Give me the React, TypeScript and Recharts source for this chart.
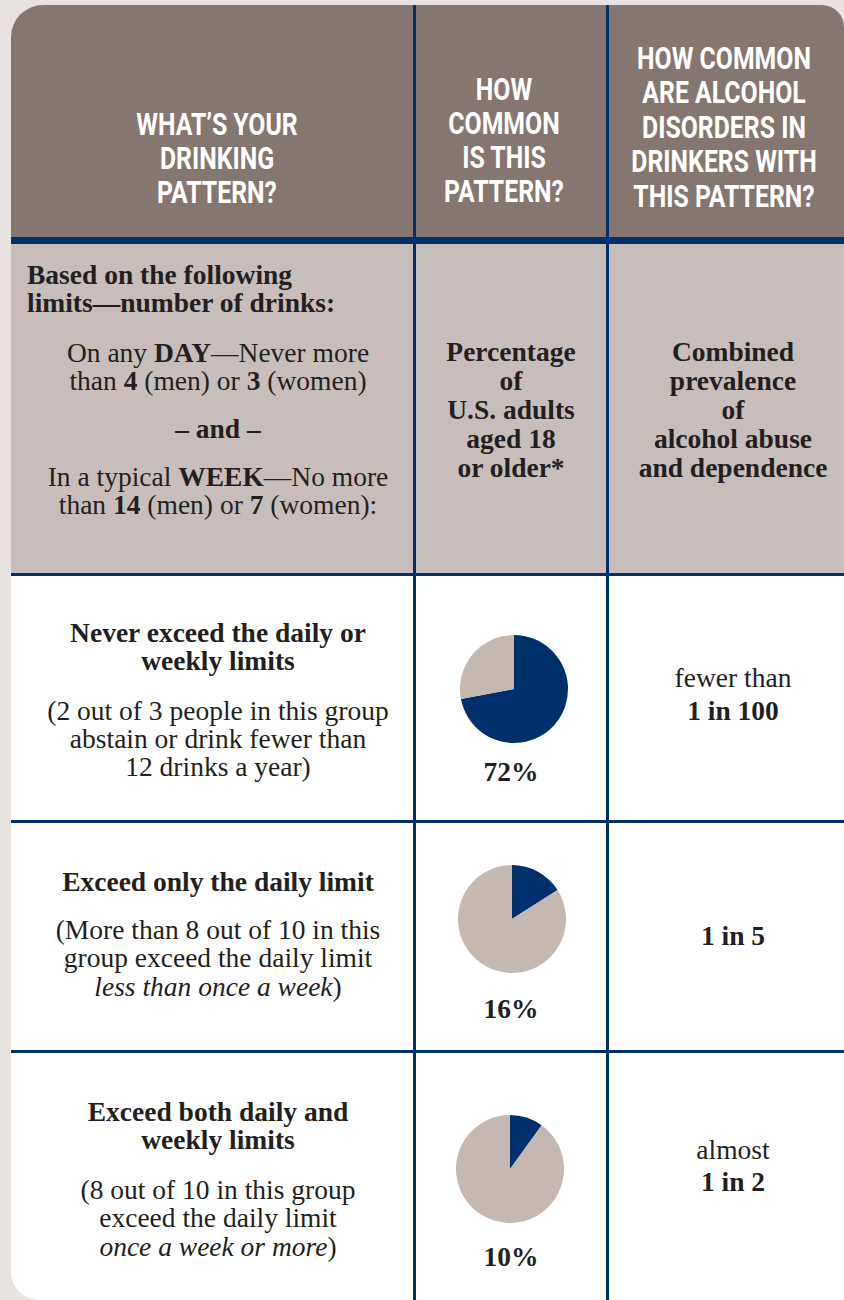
import React from 'react';
import { PieChart, Pie, Cell } from 'recharts';

// share of U.S. adults in each drinking pattern (%)
const patternShares = [72, 16, 10];
const shareLabels = ['72%', '16%', '10%'];
// prevalence of alcohol disorders per pattern
const prevalenceTop = ['fewer than', '', 'almost'];
const prevalenceBold = ['1 in 100', '1 in 5', '1 in 2'];

const headerCol1 = ['WHAT\u2019S YOUR', 'DRINKING', 'PATTERN?'];
const headerCol2 = ['HOW', 'COMMON', 'IS THIS', 'PATTERN?'];
const headerCol3 = ['HOW COMMON', 'ARE ALCOHOL', 'DISORDERS IN', 'DRINKERS WITH', 'THIS PATTERN?'];

const NAVY = '#00306c';
const TAUPE_PIE = '#c4b8b1';
const HEADER_BG = '#857770';
const ROW_BG = '#c7bebb';
const PAGE_BG = '#e8e3e0';
const INK = '#231f20';

const serif = '"Liberation Serif", "DejaVu Serif", serif';
const sans = 'Roboto, "DejaVu Sans", sans-serif';

const FS = 27.5; // body text size

type Line = React.ReactNode;

function TextBlock({ lines, left, width, top, lh, size = FS, bold = false, align = 'center', font = serif, color = INK, squeeze = 1 }: {
  lines: Line[]; left: number; width: number; top: number; lh: number; size?: number; bold?: boolean;
  align?: 'center' | 'left'; font?: string; color?: string; squeeze?: number;
}) {
  return (
    <div
      style={{
        position: 'absolute', left, width, top: top - lh / 2, textAlign: align,
        fontFamily: font, fontSize: size, lineHeight: `${lh}px`, fontWeight: bold ? 700 : 400, color,
        whiteSpace: 'nowrap',
        transform: squeeze !== 1 ? `scaleX(${squeeze})` : undefined, transformOrigin: 'center',
      }}
    >
      {lines.map((l, i) => (
        <div key={i}>{l}</div>
      ))}
    </div>
  );
}

function SharePie({ value, cx, cy }: { value: number; cx: number; cy: number }) {
  const data = [
    { name: 'pattern', value },
    { name: 'other', value: 100 - value },
  ];
  return (
    <div style={{ position: 'absolute', left: cx - 60, top: cy - 60 }}>
      <PieChart width={120} height={120} margin={{ top: 0, right: 0, bottom: 0, left: 0 }}>
        <Pie
          data={data}
          dataKey="value"
          cx={60}
          cy={60}
          outerRadius={54}
          startAngle={90}
          endAngle={-270}
          stroke="none"
          isAnimationActive={false}
        >
          <Cell fill={NAVY} />
          <Cell fill={TAUPE_PIE} />
        </Pie>
      </PieChart>
    </div>
  );
}

const b = (t: string) => <b>{t}</b>;

export default function App() {
  const pieCenters = [
    { cx: 514, cy: 689, ly: 772 },
    { cx: 512, cy: 919, ly: 1009 },
    { cx: 510, cy: 1169, ly: 1257 },
  ];
  const hd = { size: 31, font: sans, color: '#ffffff', bold: true, squeeze: 0.8 };

  return (
    <div style={{ position: 'absolute', left: 0, top: 0, width: 844, height: 1300, background: PAGE_BG, overflow: 'hidden' }}>
      {/* card */}
      <div
        style={{
          position: 'absolute', left: 11, top: 5, width: 833, height: 1295, background: '#ffffff',
          borderTopLeftRadius: 32, borderTopRightRadius: 22, borderBottomLeftRadius: 28, overflow: 'hidden',
        }}
      >
        <div style={{ position: 'absolute', left: 0, top: 0, width: 833, height: 232, background: HEADER_BG }} />
        <div style={{ position: 'absolute', left: 0, top: 232, width: 833, height: 7, background: NAVY }} />
        <div style={{ position: 'absolute', left: 0, top: 239, width: 833, height: 329, background: ROW_BG }} />
        <div style={{ position: 'absolute', left: 0, top: 568, width: 833, height: 3, background: NAVY }} />
        <div style={{ position: 'absolute', left: 0, top: 815, width: 833, height: 3, background: NAVY }} />
        <div style={{ position: 'absolute', left: 0, top: 1045, width: 833, height: 3, background: NAVY }} />
        <div style={{ position: 'absolute', left: 402, top: 0, width: 3, height: 1320, background: NAVY }} />
        <div style={{ position: 'absolute', left: 595, top: 0, width: 3, height: 1320, background: NAVY }} />
      </div>

      {/* header */}
      <TextBlock lines={headerCol1} left={17} width={400} top={125} lh={34} {...hd} />
      <TextBlock lines={headerCol2} left={404} width={200} top={90} lh={34} {...hd} />
      <TextBlock lines={headerCol3} left={604} width={240} top={59} lh={34.5} {...hd} />

      {/* limits row */}
      <TextBlock lines={['Based on the following', 'limits\u2014number of drinks:']} left={27} width={380} top={275} lh={28} align="left" bold />
      <TextBlock
        lines={[
          <>On any {b('DAY')}{'\u2014'}Never more</>,
          <>than {b('4')} (men) or {b('3')} (women)</>,
        ]}
        left={24}
        width={388}
        top={353}
        lh={28}
      />
      <TextBlock lines={['\u2013 and \u2013']} left={24} width={388} top={429} lh={28} bold />
      <TextBlock
        lines={[
          <>In a typical {b('WEEK')}{'\u2014'}No more</>,
          <>than {b('14')} (men) or {b('7')} (women):</>,
        ]}
        left={24}
        width={388}
        top={477}
        lh={28}
      />
      <TextBlock lines={['Percentage', 'of', 'U.S. adults', 'aged 18', 'or older*']} left={416} width={190} top={351} lh={29} bold />
      <TextBlock lines={['Combined', 'prevalence', 'of', 'alcohol abuse', 'and dependence']} left={609} width={248} top={351} lh={29} bold />

      {/* pattern rows */}
      <TextBlock lines={['Never exceed the daily or', 'weekly limits']} left={24} width={388} top={633} lh={28} bold />
      <TextBlock lines={['(2 out of 3 people in this group', 'abstain or drink fewer than', '12 drinks a year)']} left={24} width={388} top={711} lh={28} />

      <TextBlock lines={['Exceed only the daily limit']} left={24} width={388} top={882} lh={28} bold />
      <TextBlock
        lines={['(More than 8 out of 10 in this', 'group exceed the daily limit', <><i>less than once a week</i>)</>]}
        left={24}
        width={388}
        top={930}
        lh={28.5}
      />

      <TextBlock lines={['Exceed both daily and', 'weekly limits']} left={24} width={388} top={1112} lh={28} bold />
      <TextBlock
        lines={['(8 out of 10 in this group', 'exceed the daily limit', <><i>once a week or more</i>)</>]}
        left={24}
        width={388}
        top={1190}
        lh={28.5}
      />

      {patternShares.map((v, i) => (
        <React.Fragment key={i}>
          <SharePie value={v} cx={pieCenters[i].cx} cy={pieCenters[i].cy} />
          <TextBlock lines={[shareLabels[i]]} left={416} width={190} top={pieCenters[i].ly} lh={28} bold />
        </React.Fragment>
      ))}

      <TextBlock lines={[prevalenceTop[0], b(prevalenceBold[0])]} left={609} width={248} top={677} lh={33} />
      <TextBlock lines={[b(prevalenceBold[1])]} left={609} width={248} top={935} lh={33} />
      <TextBlock lines={[prevalenceTop[2], b(prevalenceBold[2])]} left={609} width={248} top={1150} lh={32} />
    </div>
  );
}
